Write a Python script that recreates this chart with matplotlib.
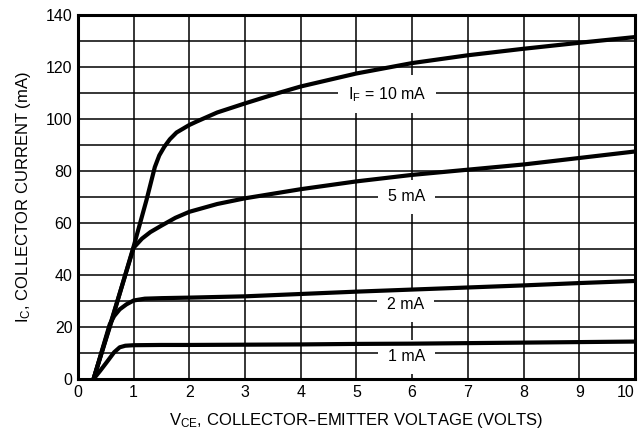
import matplotlib
matplotlib.use("Agg")
import matplotlib.pyplot as plt

plt.rcParams['font.family'] = ['Liberation Sans', 'DejaVu Sans']

# collector current curves, IC (mA) vs VCE (V), one per IF
v10 = [0.28, 0.6, 1.0, 1.23, 1.38, 1.46, 1.55, 1.65, 1.77, 2.0, 2.13, 2.5, 3.0, 3.6, 4, 5, 6, 7, 8, 9, 10]
i10 = [0, 22, 51, 68.8, 81.5, 86, 89.3, 92.2, 94.8, 97.7, 99, 102.5, 106, 110, 112.5, 117.5, 121.5, 124.5, 127, 129.3, 131.5]

v5 = [0.28, 1.0, 1.15, 1.3, 1.5, 1.75, 2.0, 2.5, 3.0, 4, 5, 6, 7, 8, 9, 10]
i5 = [0, 50.5, 54, 56.5, 59, 62, 64.3, 67.3, 69.5, 73, 76, 78.5, 80.5, 82.5, 85, 87.5]

v2 = [0.28, 0.57, 0.65, 0.75, 0.87, 1.0, 1.2, 1.5, 2, 3, 4, 5, 6, 7, 8, 9, 10]
i2 = [0, 21, 24.2, 26.8, 28.7, 30.2, 30.9, 31.1, 31.3, 31.8, 32.7, 33.6, 34.4, 35.2, 36, 36.9, 37.7]

v1 = [0.28, 0.4, 0.5, 0.57, 0.65, 0.75, 0.85, 1.0, 1.5, 2, 3, 4, 5, 6, 7, 8, 9, 10]
i1 = [0, 3.2, 6, 8, 10.3, 12.2, 12.8, 13, 13.1, 13.1, 13.2, 13.3, 13.5, 13.6, 13.8, 14.0, 14.2, 14.4]

labels = [r'$\mathregular{I_F}$ = 10 mA', '5 mA', '2 mA', '1 mA']
label_v = [5.55, 5.9, 5.88, 5.9]
label_i = [109.5, 70, 28.5, 8.5]

fig = plt.figure(figsize=(6.39, 4.40), dpi=100)
ax = fig.add_axes([0.122, 0.1386, 0.8717, 0.8274])

for v, i in [(v10, i10), (v5, i5), (v2, i2), (v1, i1)]:
    ax.plot(v, i, color='black', lw=3.0, zorder=3, solid_capstyle='butt')

for s, x, y in zip(labels, label_v, label_i):
    ax.text(x, y, s, ha='center', va='center', fontsize=11.5, zorder=2.5,
            bbox=dict(boxstyle='square,pad=0.6', fc='white', ec='none'))

ax.set_xlim(0, 10)
ax.set_ylim(0, 140)
ax.set_xticks(range(0, 11))
ax.set_yticks(range(0, 141, 20))
ax.set_yticks(range(0, 141, 10), minor=True)
ax.grid(True, which='both', color='black', lw=1.1)
ax.set_axisbelow(True)
ax.tick_params(which='both', length=0, labelsize=11.5, pad=4)
for sp in ax.spines.values():
    sp.set_linewidth(2.2)
ax.get_xticklabels()[-1].set_horizontalalignment('right')

ax.set_xlabel(r'$\mathregular{V_{CE}}$, COLLECTOR–EMITTER VOLTAGE (VOLTS)', fontsize=12, labelpad=8)
ax.set_ylabel(r'$\mathregular{I_C}$, COLLECTOR CURRENT (mA)', fontsize=12, labelpad=9)

fig.savefig('out.png', dpi=100)
